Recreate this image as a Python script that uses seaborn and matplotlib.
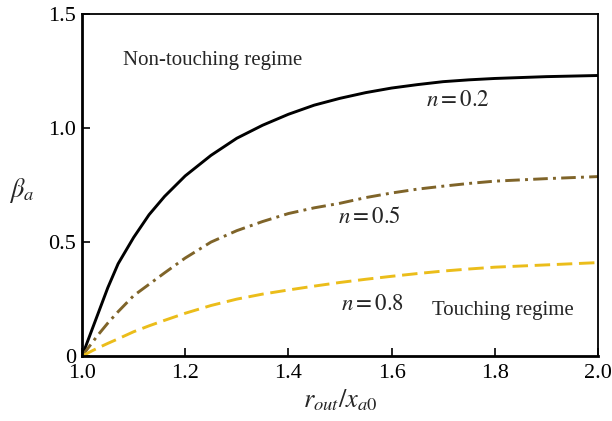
import pandas as pd
import matplotlib
matplotlib.use("Agg")
import matplotlib.pyplot as plt
import seaborn as sns

# valores
r_ratio = [1.0, 1.01, 1.02, 1.03, 1.05, 1.07, 1.1, 1.13, 1.16, 1.2, 1.25, 1.3,
           1.35, 1.4, 1.45, 1.5, 1.55, 1.6, 1.65, 1.7, 1.75, 1.8, 1.9, 2.0]
beta_n02 = [0, 0.06, 0.12, 0.18, 0.30, 0.405, 0.52, 0.62, 0.70, 0.79, 0.88, 0.955,
            1.012, 1.06, 1.10, 1.13, 1.155, 1.175, 1.19, 1.203, 1.211, 1.217, 1.225, 1.23]
beta_n05 = [0, 0.03, 0.06, 0.09, 0.145, 0.195, 0.265, 0.315, 0.365, 0.43, 0.50, 0.55,
            0.59, 0.625, 0.65, 0.67, 0.695, 0.715, 0.732, 0.745, 0.757, 0.767, 0.778, 0.787]
beta_n08 = [0, 0.012, 0.024, 0.035, 0.056, 0.076, 0.107, 0.133, 0.157, 0.188, 0.222, 0.25,
            0.272, 0.29, 0.307, 0.323, 0.337, 0.35, 0.362, 0.373, 0.382, 0.39, 0.40, 0.41]

curve_labels = ["$n = 0.2$", "$n = 0.5$", "$n = 0.8$"]
xticks = [1.0, 1.2, 1.4, 1.6, 1.8, 2.0]
yticks = [0, 0.5, 1.0, 1.5]
ytick_labels = ["0", "0.5", "1.0", "1.5"]

sns.set_style("ticks")
plt.rcParams["font.family"] = ["Liberation Serif", "DejaVu Serif"]
plt.rcParams["mathtext.fontset"] = "stix"

tabela = pd.DataFrame({"r": r_ratio, "n02": beta_n02, "n05": beta_n05, "n08": beta_n08})

fig = plt.figure(figsize=(6.12, 4.21), dpi=100)
ax = fig.add_axes([0.134, 0.154, 0.843, 0.813])

lw = 2.1
sns.lineplot(data=tabela, x="r", y="n02", ax=ax, color="black", lw=lw)
sns.lineplot(data=tabela, x="r", y="n05", ax=ax, color="#7f6429", lw=lw)
sns.lineplot(data=tabela, x="r", y="n08", ax=ax, color="#ebbd1a", lw=lw)
ax.lines[1].set_dashes([5.0, 1.8, 1.0, 1.8])
ax.lines[2].set_dashes([5.3, 2.3])

ax.set_xlim(1.0, 2.0)
ax.set_ylim(0, 1.5)
ax.set_xticks(xticks)
ax.set_xticklabels([f"{t:.1f}" for t in xticks])
ax.set_yticks(yticks)
ax.set_yticklabels(ytick_labels)
ax.tick_params(direction="in", length=6, width=1.2, labelsize=16, pad=4,
               top=False, right=False, colors="black")
ax.tick_params(axis="x", pad=6)

for s in ["left", "bottom"]:
    ax.spines[s].set_linewidth(2)
for s in ["top", "right"]:
    ax.spines[s].set_visible(True)
    ax.spines[s].set_linewidth(1.3)
for s in ax.spines.values():
    s.set_color("black")

ax.set_xlabel("$r_{out}/x_{a0}$", fontsize=19, labelpad=3)
ax.set_ylabel(r"$\beta_a$", fontsize=19, rotation=0, va="center", ha="center")
ax.yaxis.set_label_coords(-0.118, 0.485)

# textos dentro do grafico
ax.text(1.079, 1.295, "Non-touching regime", fontsize=15, va="center")
ax.text(1.728, 1.122, curve_labels[0], fontsize=16.5, ha="center", va="center")
ax.text(1.558, 0.607, curve_labels[1], fontsize=16.5, ha="center", va="center")
ax.text(1.564, 0.226, curve_labels[2], fontsize=16.5, ha="center", va="center")
ax.text(1.815, 0.20, "Touching regime", fontsize=15, ha="center", va="center")

fig.savefig("out.png", dpi=100)
